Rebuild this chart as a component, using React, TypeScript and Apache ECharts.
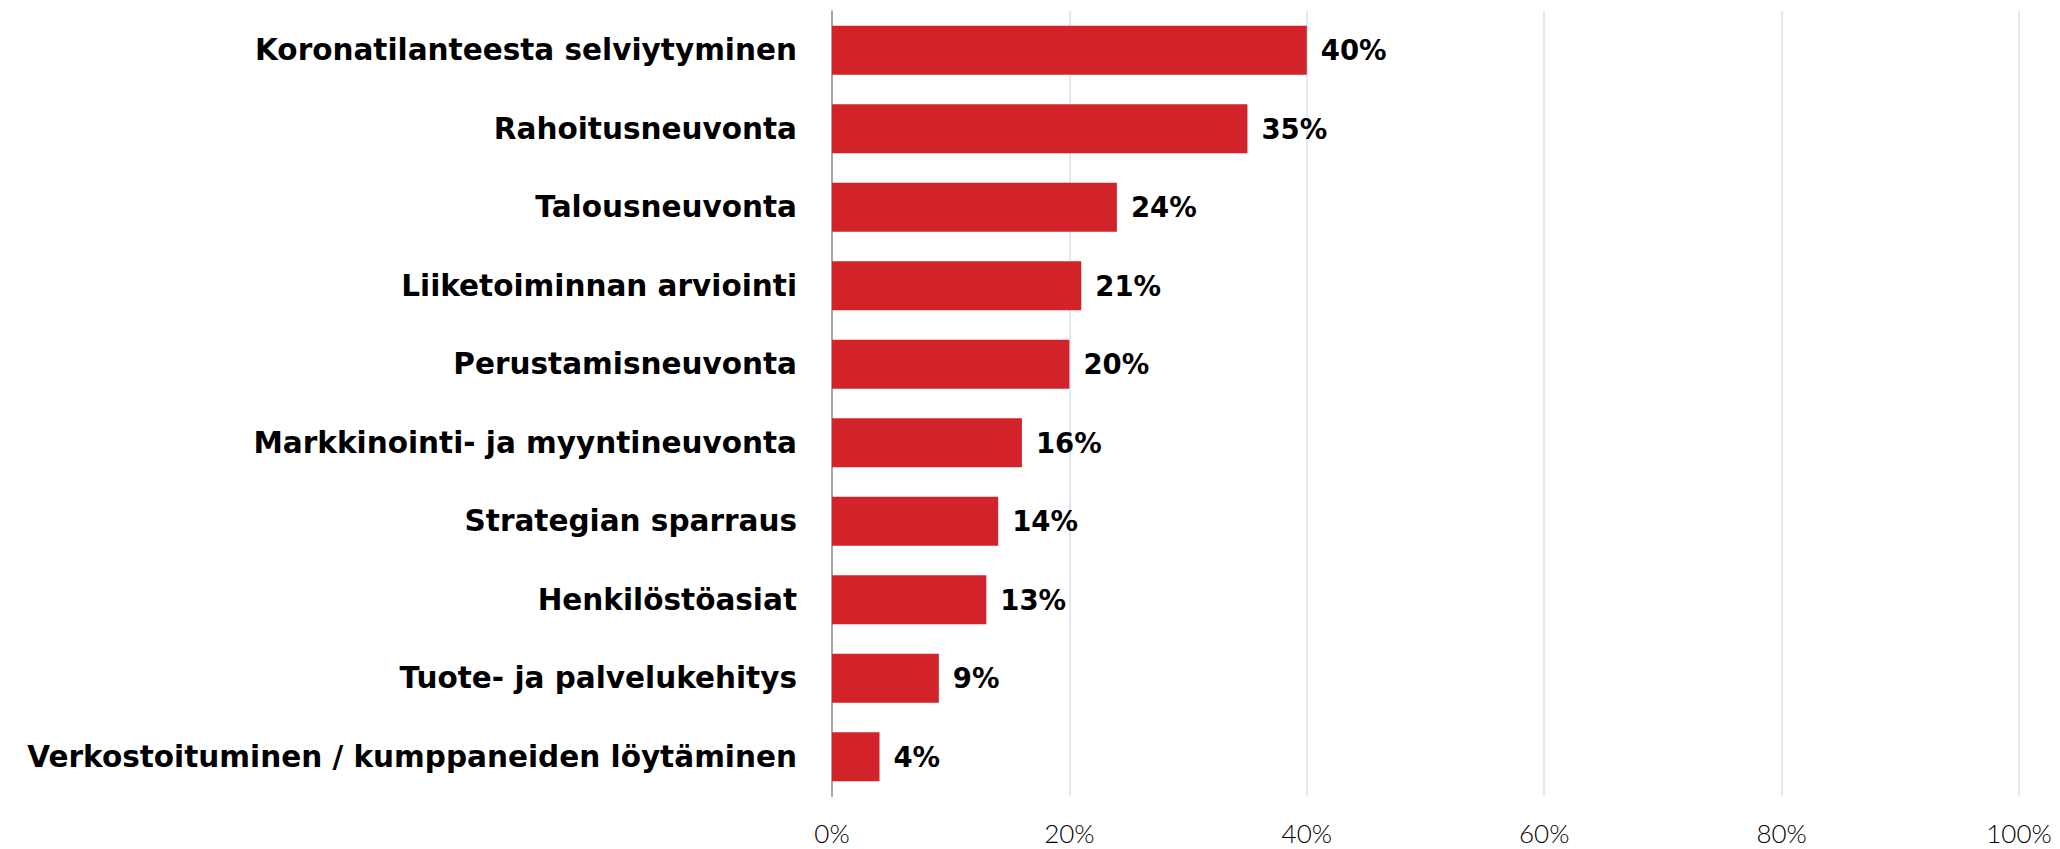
import React, { useEffect, useRef } from "react";
import * as echarts from "echarts";

const categories = [
  "Koronatilanteesta selviytyminen",
  "Rahoitusneuvonta",
  "Talousneuvonta",
  "Liiketoiminnan arviointi",
  "Perustamisneuvonta",
  "Markkinointi- ja myyntineuvonta",
  "Strategian sparraus",
  "Henkilöstöasiat",
  "Tuote- ja palvelukehitys",
  "Verkostoituminen / kumppaneiden löytäminen",
];
const values = [40, 35, 24, 21, 20, 16, 14, 13, 9, 4];
const xTicks = { min: 0, max: 100, interval: 20 };

export default function App() {
  const ref = useRef<HTMLDivElement>(null);
  useEffect(() => {
    document.body.style.margin = "0";
    const chart = echarts.init(ref.current!, undefined, { renderer: "svg" });
    chart.setOption({
      animation: false,
      backgroundColor: "#ffffff",
      grid: { left: 832, right: 41, top: 11, bottom: 53, containLabel: false },
      xAxis: {
        type: "value",
        min: xTicks.min,
        max: xTicks.max,
        interval: xTicks.interval,
        axisLine: { show: false },
        axisTick: { show: false },
        splitLine: { lineStyle: { color: "#d9e1f0", width: 1.5 } },
        axisLabel: {
          formatter: "{value}%",
          color: "#000",
          fontFamily: "Lato",
          fontWeight: 300,
          fontSize: 26,
          margin: 24,
        },
      },
      yAxis: {
        type: "category",
        data: categories,
        inverse: true,
        axisLine: { show: true, lineStyle: { color: "#a6a6a6", width: 2 } },
        axisTick: { show: false },
        axisLabel: {
          color: "#000",
          fontFamily: "DejaVu Sans",
          fontWeight: "bold",
          fontSize: 29.5,
          margin: 35,
        },
      },
      series: [
        {
          type: "bar",
          data: values,
          barWidth: 49,
          itemStyle: { color: "#d2232b" },
          label: {
            show: true,
            position: "right",
            distance: 14,
            formatter: "{c}%",
            color: "#000",
            fontFamily: "DejaVu Sans",
            fontWeight: "bold",
            fontSize: 27.5,
          },
        },
      ],
    });
    return () => chart.dispose();
  }, []);
  return <div ref={ref} style={{ width: 2060, height: 849 }} />;
}
